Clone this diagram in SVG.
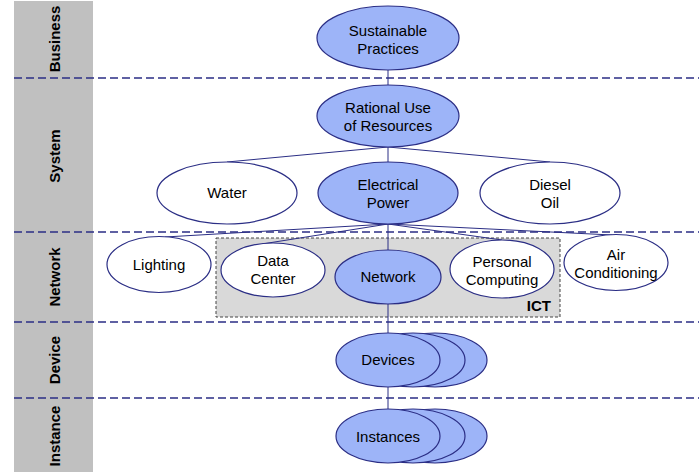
<svg xmlns="http://www.w3.org/2000/svg" width="699" height="474" viewBox="0 0 699 474">
<style>
.lane{font-family:"Liberation Sans",Arial,sans-serif;font-size:15px;font-weight:bold;fill:#000;text-anchor:middle}
.t{font-family:"Liberation Sans",Arial,sans-serif;font-size:15px;fill:#000;text-anchor:middle}
.sep{stroke:#2B2E85;stroke-width:1.6;stroke-dasharray:8 4;fill:none}
.c{stroke:#2B2E85;stroke-width:1;fill:none}
.b{fill:#9DB4F8;stroke:#2B2E85;stroke-width:1.2}
.w{fill:#FFFFFF;stroke:#2B2E85;stroke-width:1.2}
</style>
<rect width="699" height="474" fill="#FFFFFF"/>
<g id="lanes">
<rect x="14" y="1" width="79" height="471" fill="#C0C0C0"/>
<text class="lane" transform="translate(60,39) rotate(-90)">Business</text>
<text class="lane" transform="translate(60,156) rotate(-90)">System</text>
<text class="lane" transform="translate(60,277) rotate(-90)">Network</text>
<text class="lane" transform="translate(60,360) rotate(-90)">Device</text>
<text class="lane" transform="translate(60,436) rotate(-90)">Instance</text>
</g>
<g id="separators">
<line class="sep" x1="14" y1="78" x2="699" y2="78"/>
<line class="sep" x1="14" y1="232" x2="699" y2="232"/>
<line class="sep" x1="14" y1="322" x2="699" y2="322"/>
<line class="sep" x1="14" y1="398" x2="699" y2="398"/>
</g>
<g id="ict">
<rect x="216" y="238" width="344" height="79" fill="#D9D9D9" stroke="#444444" stroke-width="1" stroke-dasharray="3 2"/>
<text x="551" y="311" font-family="Liberation Sans,Arial,sans-serif" font-size="15" font-weight="bold" text-anchor="end">ICT</text>
</g>
<g id="connectors">
<line class="c" x1="388" y1="70" x2="388" y2="86"/>
<line class="c" x1="388" y1="147" x2="388" y2="163"/>
<line class="c" x1="388" y1="147" x2="227" y2="162"/>
<line class="c" x1="388" y1="147" x2="550" y2="162"/>
<line class="c" x1="388" y1="224" x2="165" y2="237"/>
<line class="c" x1="388" y1="224" x2="262" y2="244"/>
<line class="c" x1="388" y1="224" x2="388" y2="334"/>
<line class="c" x1="388" y1="224" x2="502" y2="240"/>
<line class="c" x1="388" y1="224" x2="612" y2="235"/>
<line class="c" x1="388" y1="386" x2="388" y2="410"/>
</g>
<g id="sustainable">
<ellipse class="b" cx="388" cy="38" rx="71" ry="32"/>
<text class="t" x="388" y="36">Sustainable</text>
<text class="t" x="388" y="54">Practices</text>
</g>
<g id="rational">
<ellipse class="b" cx="388" cy="116" rx="71" ry="31"/>
<text class="t" x="388" y="113">Rational Use</text>
<text class="t" x="388" y="131">of Resources</text>
</g>
<g id="water">
<ellipse class="w" cx="227" cy="193" rx="70" ry="31"/>
<text class="t" x="227" y="198">Water</text>
</g>
<g id="electrical">
<ellipse class="b" cx="388" cy="193" rx="70" ry="31"/>
<text class="t" x="388" y="190">Electrical</text>
<text class="t" x="388" y="208">Power</text>
</g>
<g id="diesel">
<ellipse class="w" cx="550" cy="193" rx="70" ry="31"/>
<text class="t" x="550" y="190">Diesel</text>
<text class="t" x="550" y="208">Oil</text>
</g>
<g id="lighting">
<ellipse class="w" cx="159" cy="264.5" rx="52" ry="28"/>
<text class="t" x="159" y="270">Lighting</text>
</g>
<g id="datacenter">
<ellipse class="w" cx="273" cy="270" rx="52" ry="27"/>
<text class="t" x="273" y="266">Data</text>
<text class="t" x="273" y="284">Center</text>
</g>
<g id="network">
<ellipse class="b" cx="388" cy="277" rx="53" ry="27"/>
<text class="t" x="388" y="282">Network</text>
</g>
<g id="personal">
<ellipse class="w" cx="502" cy="269" rx="52" ry="29"/>
<text class="t" x="502" y="267">Personal</text>
<text class="t" x="502" y="285">Computing</text>
</g>
<g id="aircon">
<ellipse class="w" cx="616" cy="262.5" rx="52" ry="28"/>
<text class="t" x="616" y="260">Air</text>
<text class="t" x="616" y="278">Conditioning</text>
</g>
<g id="devices">
<ellipse class="b" cx="435" cy="360" rx="52" ry="27"/>
<ellipse class="b" cx="413" cy="360" rx="52" ry="27"/>
<ellipse class="b" cx="388" cy="360" rx="52" ry="27"/>
<text class="t" x="388" y="365">Devices</text>
</g>
<g id="instances">
<ellipse class="b" cx="435" cy="436" rx="52" ry="27"/>
<ellipse class="b" cx="413" cy="436" rx="52" ry="27"/>
<ellipse class="b" cx="388" cy="436" rx="52" ry="27"/>
<text class="t" x="388" y="442">Instances</text>
</g>
</svg>
